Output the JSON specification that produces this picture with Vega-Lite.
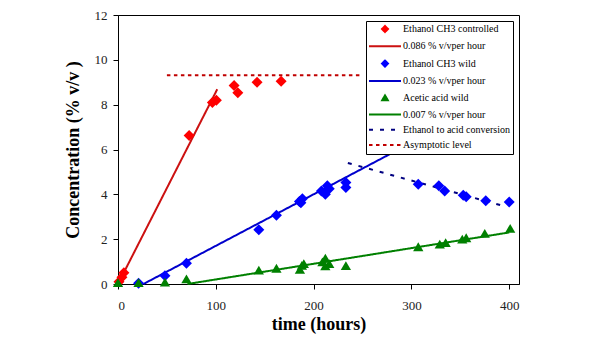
{
  "$schema": "https://vega.github.io/schema/vega-lite/v6.json",
  "width": 401,
  "height": 269,
  "autosize": "none",
  "padding": {"left": 118, "top": 15, "right": 83, "bottom": 68},
  "background": "white",
  "datasets": {
    "pts": [
      {"series": "Ethanol CH3 controlled", "time": 1, "conc": 0.1},
      {"series": "Ethanol CH3 controlled", "time": 4, "conc": 0.3},
      {"series": "Ethanol CH3 controlled", "time": 6, "conc": 0.5},
      {"series": "Ethanol CH3 controlled", "time": 72.7, "conc": 6.63},
      {"series": "Ethanol CH3 controlled", "time": 96.5, "conc": 8.1},
      {"series": "Ethanol CH3 controlled", "time": 100.6, "conc": 8.2},
      {"series": "Ethanol CH3 controlled", "time": 118.7, "conc": 8.86},
      {"series": "Ethanol CH3 controlled", "time": 122.5, "conc": 8.53},
      {"series": "Ethanol CH3 controlled", "time": 142.2, "conc": 9.0},
      {"series": "Ethanol CH3 controlled", "time": 166.8, "conc": 9.05},
      {"series": "Ethanol CH3 wild", "time": 21, "conc": 0.03},
      {"series": "Ethanol CH3 wild", "time": 48, "conc": 0.37},
      {"series": "Ethanol CH3 wild", "time": 70, "conc": 0.93},
      {"series": "Ethanol CH3 wild", "time": 144, "conc": 2.42},
      {"series": "Ethanol CH3 wild", "time": 162, "conc": 3.07},
      {"series": "Ethanol CH3 wild", "time": 185.5, "conc": 3.68},
      {"series": "Ethanol CH3 wild", "time": 187, "conc": 3.62},
      {"series": "Ethanol CH3 wild", "time": 188.5, "conc": 3.8},
      {"series": "Ethanol CH3 wild", "time": 208, "conc": 4.15},
      {"series": "Ethanol CH3 wild", "time": 212, "conc": 4.0},
      {"series": "Ethanol CH3 wild", "time": 214, "conc": 4.38},
      {"series": "Ethanol CH3 wild", "time": 216, "conc": 4.25},
      {"series": "Ethanol CH3 wild", "time": 233, "conc": 4.53},
      {"series": "Ethanol CH3 wild", "time": 233, "conc": 4.3},
      {"series": "Ethanol CH3 wild", "time": 307, "conc": 4.45},
      {"series": "Ethanol CH3 wild", "time": 328, "conc": 4.38},
      {"series": "Ethanol CH3 wild", "time": 334, "conc": 4.15},
      {"series": "Ethanol CH3 wild", "time": 353, "conc": 3.96},
      {"series": "Ethanol CH3 wild", "time": 356, "conc": 3.89},
      {"series": "Ethanol CH3 wild", "time": 376, "conc": 3.71},
      {"series": "Ethanol CH3 wild", "time": 400, "conc": 3.66},
      {"series": "Acetic acid wild", "time": 0, "conc": 0.03},
      {"series": "Acetic acid wild", "time": 21, "conc": 0.03},
      {"series": "Acetic acid wild", "time": 48, "conc": 0.05},
      {"series": "Acetic acid wild", "time": 70, "conc": 0.2},
      {"series": "Acetic acid wild", "time": 144, "conc": 0.59},
      {"series": "Acetic acid wild", "time": 162, "conc": 0.67},
      {"series": "Acetic acid wild", "time": 186, "conc": 0.62},
      {"series": "Acetic acid wild", "time": 188, "conc": 0.8},
      {"series": "Acetic acid wild", "time": 190, "conc": 0.88},
      {"series": "Acetic acid wild", "time": 209, "conc": 0.95},
      {"series": "Acetic acid wild", "time": 212, "conc": 1.12},
      {"series": "Acetic acid wild", "time": 212, "conc": 0.78},
      {"series": "Acetic acid wild", "time": 216, "conc": 0.88},
      {"series": "Acetic acid wild", "time": 233, "conc": 0.79},
      {"series": "Acetic acid wild", "time": 307, "conc": 1.63},
      {"series": "Acetic acid wild", "time": 329, "conc": 1.75},
      {"series": "Acetic acid wild", "time": 335, "conc": 1.81},
      {"series": "Acetic acid wild", "time": 352, "conc": 1.97},
      {"series": "Acetic acid wild", "time": 356, "conc": 2.03},
      {"series": "Acetic acid wild", "time": 375, "conc": 2.23},
      {"series": "Acetic acid wild", "time": 401, "conc": 2.45}
    ],
    "lines": [
      {"series": "0.086 % v/vper hour", "time": 0, "conc": 0},
      {"series": "0.086 % v/vper hour", "time": 101.5, "conc": 8.69},
      {"series": "0.023 % v/vper hour", "time": 26, "conc": 0},
      {"series": "0.023 % v/vper hour", "time": 290, "conc": 6.07},
      {"series": "0.007 % v/vper hour", "time": 71, "conc": 0},
      {"series": "0.007 % v/vper hour", "time": 400, "conc": 2.3},
      {"series": "Ethanol to acid conversion", "time": 235, "conc": 5.4},
      {"series": "Ethanol to acid conversion", "time": 395, "conc": 3.47},
      {"series": "Asymptotic level", "time": 50, "conc": 9.31},
      {"series": "Asymptotic level", "time": 250, "conc": 9.31}
    ]
  },
  "config": {
    "font": "Liberation Serif",
    "view": {"stroke": "black", "strokeWidth": 1},
    "axis": {
      "grid": false,
      "domainColor": "black",
      "tickColor": "black",
      "tickSize": 5,
      "labelFont": "Liberation Serif",
      "labelFontSize": 13,
      "labelColor": "#222222",
      "titleFont": "Liberation Serif",
      "titleFontSize": 18,
      "titleFontWeight": "bold",
      "titleColor": "black"
    },
    "legend": {
      "orient": "top-right",
      "offset": 6,
      "padding": 3,
      "strokeColor": "black",
      "fillColor": "white",
      "labelFont": "Liberation Serif",
      "labelFontSize": 10,
      "labelColor": "black",
      "labelLimit": 200,
      "symbolSize": 64,
      "symbolStrokeWidth": 2,
      "symbolOffset": 11,
      "labelOffset": 13,
      "rowPadding": 5.3
    }
  },
  "encoding": {
    "x": {
      "field": "time",
      "type": "quantitative",
      "scale": {"domain": [0, 410], "nice": false, "zero": false},
      "axis": {"values": [0, 100, 200, 300, 400], "title": "time (hours)", "labelFont": "Liberation Serif", "labelPadding": 10, "titlePadding": 3}
    },
    "y": {
      "field": "conc",
      "type": "quantitative",
      "scale": {"domain": [0, 12], "nice": false},
      "axis": {"values": [0, 2, 4, 6, 8, 10, 12], "title": "Concentration (% v/v )", "labelFont": "Liberation Serif", "labelPadding": 6, "titlePadding": 12}
    },
    "color": {
      "field": "series",
      "type": "nominal",
      "scale": {
        "domain": ["Ethanol CH3 controlled", "0.086 % v/vper hour", "Ethanol CH3 wild", "0.023 % v/vper hour", "Acetic acid wild", "0.007 % v/vper hour", "Ethanol to acid conversion", "Asymptotic level"],
        "range": ["#ff0000", "#cc1111", "#0000ff", "#0000cc", "#008000", "#008000", "#000080", "#c00000"]
      },
      "legend": {"title": null, "labelFont": "Liberation Serif"}
    }
  },
  "layer": [
    {
      "data": {"name": "lines"},
      "mark": {"type": "line", "strokeWidth": 2},
      "encoding": {
        "strokeDash": {
          "field": "series",
          "type": "nominal",
          "scale": {
            "domain": ["Ethanol CH3 controlled", "0.086 % v/vper hour", "Ethanol CH3 wild", "0.023 % v/vper hour", "Acetic acid wild", "0.007 % v/vper hour", "Ethanol to acid conversion", "Asymptotic level"],
            "range": [[1, 0], [1, 0], [1, 0], [1, 0], [1, 0], [1, 0], [4, 7], [3.5, 3.5]]
          },
          "legend": {"title": null, "labelFont": "Liberation Serif"}
        }
      }
    },
    {
      "data": {"name": "pts"},
      "mark": {"type": "point", "filled": true, "opacity": 1, "size": 215},
      "encoding": {
        "shape": {
          "field": "series",
          "type": "nominal",
          "scale": {
            "domain": ["Ethanol CH3 controlled", "0.086 % v/vper hour", "Ethanol CH3 wild", "0.023 % v/vper hour", "Acetic acid wild", "0.007 % v/vper hour", "Ethanol to acid conversion", "Asymptotic level"],
            "range": ["M0,-0.75L0.75,0L0,0.75L-0.75,0Z", "M-4,0H4", "M0,-0.75L0.75,0L0,0.75L-0.75,0Z", "M-4,0H4", "M0,-0.7L0.7,0.5L-0.7,0.5Z", "M-4,0H4", "M-4,0H4", "M-4,0H4"]
          },
          "legend": {"title": null, "labelFont": "Liberation Serif"}
        }
      }
    }
  ]
}
